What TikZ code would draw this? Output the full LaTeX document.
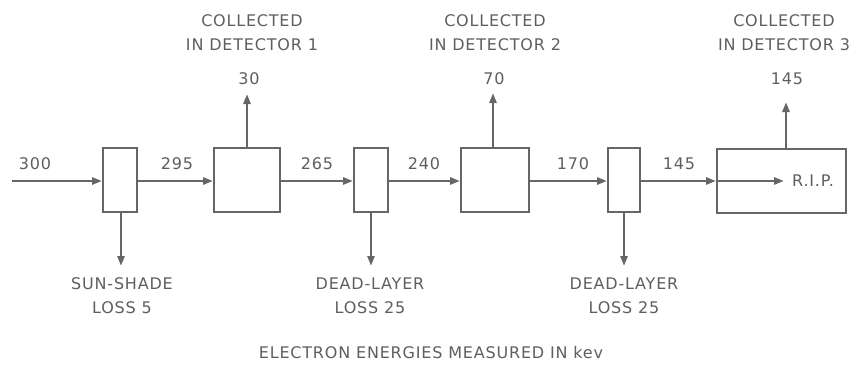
\documentclass[tikz,border=0pt]{standalone}
\usepackage{fontspec}
\setmainfont[LetterSpace=5]{DejaVu Sans}
\usetikzlibrary{arrows.meta}
\definecolor{ink}{HTML}{666666}
\definecolor{txt}{HTML}{5E5E5E}
\begin{document}
\begin{tikzpicture}[x=1pt,y=-1pt,
  stage/.style={draw=ink,line width=1.9pt,minimum height=64pt,inner sep=0pt,fill=white},
  thin/.style={stage,minimum width=34pt},
  wide/.style={stage,minimum width=66pt},
  flow/.style={draw=ink,line width=2.7pt,-{Triangle[length=10pt,width=7pt]}},
  lab/.style={text=txt,font=\fontsize{16}{24}\selectfont,inner sep=0pt,align=center},
]
\useasboundingbox (0,0) rectangle (862,372);
% boxes
\node[thin] (b1) at (120,180) {};
\node[wide] (b2) at (247,180) {};
\node[thin] (b3) at (371,180) {};
\node[wide,minimum width=68pt] (b4) at (495,180) {};
\node[thin,minimum width=32pt] (b5) at (624,180) {};
\node[stage,minimum width=129pt] (b6) at (781.5,181) {};
% coordinates
\coordinate (in) at (12,181);
\coordinate (ripend) at (784,181);
\coordinate (u2) at (247,94);
\coordinate (u4) at (493,93);
\coordinate (u6) at (786,102);
\coordinate (d1) at (121,266);
\coordinate (d3) at (371,266);
\coordinate (d5) at (624,266);
% main line
\draw[flow] (in) -- (b1.west |- in);
\draw[flow] (b1.east |- in) -- (b2.west |- in);
\draw[flow] (b2.east |- in) -- (b3.west |- in);
\draw[flow] (b3.east |- in) -- (b4.west |- in);
\draw[flow] (b4.east |- in) -- (b5.west |- in);
\draw[flow] (b5.east |- in) -- (b6.west |- in);
\draw[flow] (b6.west |- in) -- (ripend);
% up/down
\draw[flow] (b2.north -| u2) -- (u2);
\draw[flow] (b4.north -| u4) -- (u4);
\draw[flow] (b6.north -| u6) -- (u6);
\draw[flow] (b1.south -| d1) -- (d1);
\draw[flow] (b3.south -| d3) -- (d3);
\draw[flow] (b5.south -| d5) -- (d5);
% main-line labels
\node[lab] (t300) at (35,164) {300};
\node[lab] (t295) at (177,164) {295};
\node[lab] (t265) at (317,164) {265};
\node[lab] (t240) at (424,164) {240};
\node[lab] (t170) at (573,164) {170};
\node[lab] (t145) at (679,164) {145};
\node[lab,anchor=west] (rip) at (792,181) {R.I.P.};
% top labels
\node[lab] (c1) at (252,33) {COLLECTED\\IN DETECTOR 1};
\node[lab] (n1) at (249,79) {30};
\node[lab] (c2) at (495,33) {COLLECTED\\IN DETECTOR 2};
\node[lab] (n2) at (494,79) {70};
\node[lab] (c3) at (784,33) {COLLECTED\\IN DETECTOR 3};
\node[lab] (n3) at (787,79) {145};
% bottom labels
\node[lab] (s1) at (122,296) {SUN-SHADE\\LOSS 5};
\node[lab] (s3) at (370,296) {DEAD-LAYER\\LOSS 25};
\node[lab] (s5) at (624,296) {DEAD-LAYER\\LOSS 25};
\node[lab] (foot) at (431,353) {ELECTRON ENERGIES MEASURED IN kev};
\end{tikzpicture}
\end{document}
